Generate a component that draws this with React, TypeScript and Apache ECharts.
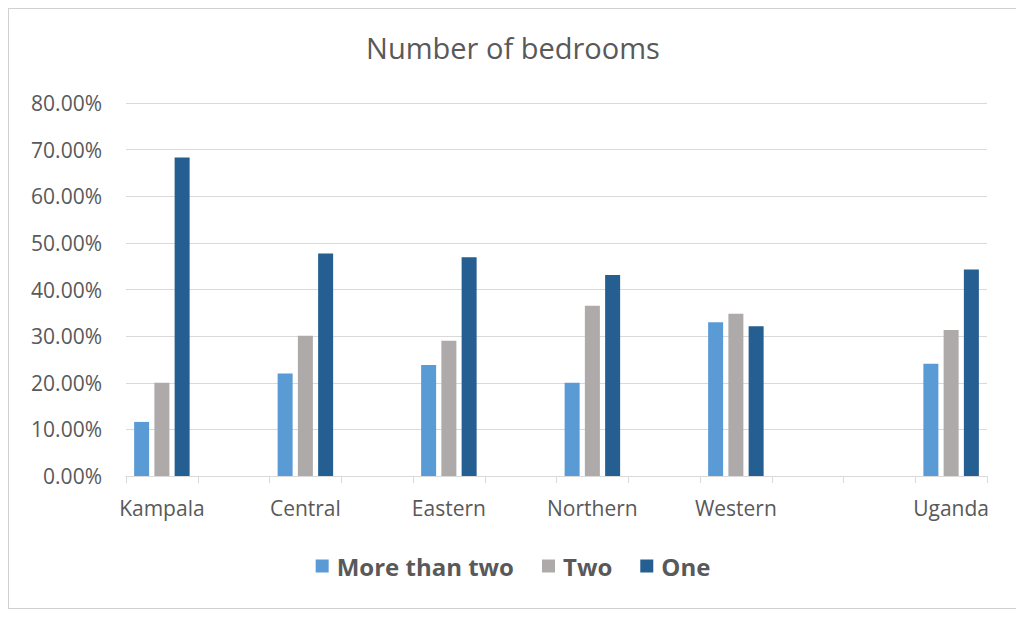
import React, { useEffect, useRef } from "react";
import * as echarts from "echarts";

const categories = ["Kampala", "", "Central", "", "Eastern", "", "Northern", "", "Western", "", "", "Uganda"];
const moreThanTwo = [11.6, null, 22.0, null, 23.8, null, 20.0, null, 33.0, null, null, 24.1];
const two = [20.0, null, 30.1, null, 29.0, null, 36.5, null, 34.8, null, null, 31.3];
const one = [68.3, null, 47.7, null, 46.9, null, 43.1, null, 32.1, null, null, 44.3];
const seriesNames = ["More than two", "Two", "One"];
const colors = ["#5B9BD5", "#AEAAAA", "#255E91"];

const FONT = "'Open Sans', 'Liberation Sans', sans-serif";

export default function App() {
  const ref = useRef<HTMLDivElement>(null);
  useEffect(() => {
    if (!ref.current) return;
    const chart = echarts.init(ref.current, undefined, { renderer: "svg" });
    const data = [moreThanTwo, two, one];
    chart.setOption({
      animation: false,
      backgroundColor: "#ffffff",
      title: {
        text: "Number of bedrooms",
        left: "center",
        top: 19,
        textStyle: { fontFamily: FONT, fontSize: 29, fontWeight: "normal", color: "#595959" },
      },
      legend: {
        data: seriesNames,
        left: "center",
        top: 540,
        icon: "rect",
        itemWidth: 13,
        itemHeight: 13,
        itemGap: 28,
        textStyle: { fontFamily: FONT, fontSize: 24, fontWeight: "bold", color: "#595959", padding: [0, 0, 0, 3] },
      },
      grid: { left: 117, right: 30, top: 94, height: 373, containLabel: false },
      xAxis: {
        type: "category",
        data: categories,
        boundaryGap: true,
        axisLine: { lineStyle: { color: "#D9D9D9", width: 1 } },
        axisTick: { show: true, alignWithLabel: false, interval: 0, length: 7, lineStyle: { color: "#D9D9D9" } },
        axisLabel: { interval: 0, margin: 21, fontFamily: FONT, fontSize: 21, color: "#595959" },
      },
      yAxis: {
        type: "value",
        min: 0,
        max: 80,
        interval: 10,
        axisLine: { show: false },
        axisTick: { show: false },
        splitLine: { lineStyle: { color: "#D9D9D9", width: 1 } },
        axisLabel: {
          margin: 24,
          fontFamily: FONT,
          fontSize: 21,
          color: "#595959",
          formatter: (v: number) => v.toFixed(2) + "%",
        },
      },
      series: seriesNames.map((name, i) => ({
        name,
        type: "bar",
        data: data[i],
        barWidth: 15,
        barGap: "35%",
        itemStyle: { color: colors[i] },
      })),
    });
    return () => chart.dispose();
  }, []);
  return (
    <div style={{ width: 1008, height: 599, border: "1px solid #D0D0D0" }}>
      <div ref={ref} style={{ width: 1008, height: 599 }} />
    </div>
  );
}
